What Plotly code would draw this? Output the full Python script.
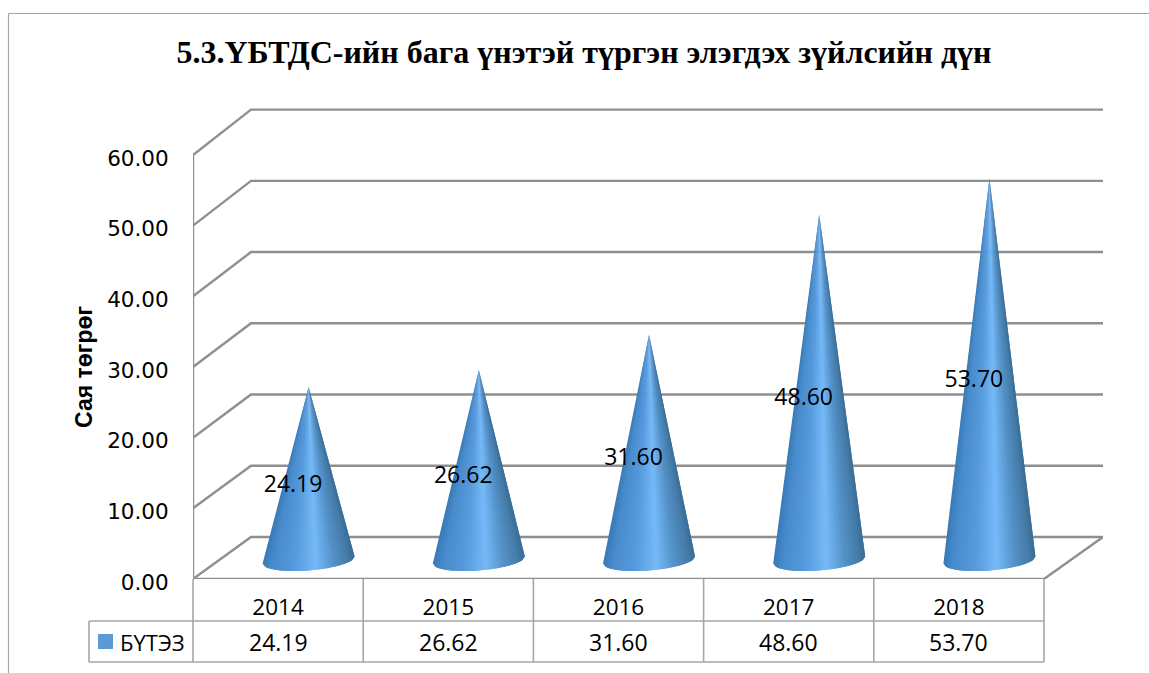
import numpy as np
import plotly.graph_objects as go

W, H = 1149, 673

# values
years = ['2014', '2015', '2016', '2017', '2018']
totals = [24.19, 26.62, 31.60, 48.60, 53.70]
y_ticks = [0, 10, 20, 30, 40, 50, 60]

title_text = '5.3.ҮБТДС-ийн бага үнэтэй түргэн элэгдэх зүйлсийн дүн'
y_title = 'Сая төгрөг'
series_name = 'БҮТЭЗ'

# pixel frame of the fake 3D box
X0, X5 = 193, 1044      # front edge of floor, first and last category border
XR = 1103               # right end of back wall
Y0, Y60 = 579, 155      # front axis, value 0 and value 60
YT = 108                # top of the plot area
X_UNIT = (X5 - X0) / 5
Y_UNIT = (Y0 - Y60) / 60
DEPTH_X = 58 / X_UNIT
DEPTH_Y = 42 / Y_UNIT
BACK_SCALE = 1.008

# cone geometry in pixels
CONE_A = 46
CONE_B = 10.5
CONE_TILT = 3.5
CONE_LIFT = 19 / Y_UNIT
CONE_SHIFT = 1.5 / X_UNIT
APEX_EXTRA = 2 / Y_UNIT

GRID = '#8f8f8f'
TABLE = '#a6a6a6'
# shading left to right across a cone
shade_stops = [(0.0, (58, 122, 182)), (0.1, (72, 140, 205)), (0.35, (88, 155, 222)),
               (0.58, (118, 186, 248)), (0.78, (84, 146, 200)), (0.93, (70, 125, 170)),
               (1.0, (58, 108, 150))]
N_WEDGES = 40


def shade(f):
    xs = [s[0] for s in shade_stops]
    rgb = [np.interp(f, xs, [s[1][k] for s in shade_stops]) for k in range(3)]
    return 'rgb(%d,%d,%d)' % tuple(rgb)


def px(x):
    return x / W


def py(y):
    return 1 - y / H


fig = go.Figure()

# back wall gridlines, running from the y axis to the back and along the wall
for v in y_ticks:
    fig.add_trace(go.Scatter(
        x=[0, DEPTH_X, (XR - X0) / X_UNIT],
        y=[v, v * BACK_SCALE + DEPTH_Y, v * BACK_SCALE + DEPTH_Y],
        mode='lines', line=dict(color=GRID, width=2.4), hoverinfo='skip', showlegend=False))

# floor front edge and right side
fig.add_trace(go.Scatter(
    x=[0, 5, (XR - X0) / X_UNIT], y=[0, 0, DEPTH_Y],
    mode='lines', line=dict(color=GRID, width=2.4), hoverinfo='skip', showlegend=False))

# y axis wall edge
fig.add_trace(go.Scatter(
    x=[0, 0], y=[0, 60],
    mode='lines', line=dict(color=GRID, width=2.4), hoverinfo='skip', showlegend=False))

# cones, one trace per shade with a wedge from every cone
# each wedge also covers the next one so the fills leave no seams
for w in range(N_WEDGES):
    fracs = [w / N_WEDGES, (w + 1) / N_WEDGES, min(w + 2, N_WEDGES) / N_WEDGES]
    xs, ys = [], []
    for i, v in enumerate(totals):
        cx = i + 0.5 + DEPTH_X / 2 + CONE_SHIFT
        xs += [cx]
        ys += [v + CONE_LIFT + APEX_EXTRA]
        for f in fracs:
            c = 2 * f - 1
            s = np.sqrt(1 - c * c)
            xs.append(cx + c * CONE_A / X_UNIT)
            ys.append(CONE_LIFT + (c * CONE_TILT - s * CONE_B) / Y_UNIT)
        xs.append(None)
        ys.append(None)
    col = shade((w + 0.5) / N_WEDGES)
    fig.add_trace(go.Scatter(
        x=xs, y=ys, mode='lines', fill='toself', fillcolor=col,
        line=dict(width=0), hoverinfo='skip', showlegend=False))

# data labels
fig.add_trace(go.Scatter(
    x=[i + 0.5 + 15 / X_UNIT for i in range(len(years))],
    y=[v / 2 + 1.1 for v in totals],
    text=['%.2f' % v for v in totals],
    mode='text', textposition='middle center',
    textfont=dict(family='Open Sans', size=23, color='black'),
    cliponaxis=False, hoverinfo='skip', showlegend=False))

shapes = []


def table_line(x1, y1, x2, y2, width=1.6):
    shapes.append(dict(type='line', xref='paper', yref='paper',
                       x0=px(x1), y0=py(y1), x1=px(x2), y1=py(y2),
                       line=dict(color=TABLE, width=width)))


# outer chart border
table_line(8.5, 13.5, W, 13.5, 1.2)
table_line(8.5, 13.5, 8.5, H, 1.2)

# data table under the chart
for i in range(len(years) + 1):
    x = X0 + i * X_UNIT
    table_line(x, Y0, x, 662)
table_line(89, 621, X5, 621)
table_line(89, 662, X5, 662)
table_line(89, 621, 89, 662)

# legend key
shapes.append(dict(type='rect', xref='paper', yref='paper',
                   x0=px(98), x1=px(113), y0=py(649), y1=py(634),
                   fillcolor='#5b9bd5', line=dict(width=0)))

annotations = []
for i, v in enumerate(totals):
    annotations.append(dict(
        x=i + 0.5, xref='x', y=py(642), yref='paper', text='%.2f' % v, showarrow=False,
        xanchor='center', yanchor='middle', font=dict(family='Open Sans', size=23, color='black')))
annotations.append(dict(
    x=px(118), xref='paper', y=py(642), yref='paper', text=series_name, showarrow=False,
    xanchor='left', yanchor='middle', font=dict(family='Open Sans', size=22, color='black')))
annotations.append(dict(
    x=px(84), xref='paper', y=py(367), yref='paper', text='<b>' + y_title + '</b>', showarrow=False,
    textangle=-90, xanchor='center', yanchor='middle',
    font=dict(family='Liberation Sans', size=23, color='black')))

fig.update_layout(
    width=W, height=H, autosize=False,
    margin=dict(l=0, r=0, t=0, b=0),
    paper_bgcolor='white', plot_bgcolor='white',
    showlegend=False,
    title=dict(
        text='<b>' + title_text + '</b>', x=584 / W, xanchor='center', y=py(52), yanchor='middle',
        font=dict(family='Liberation Serif', size=32, color='black')),
    xaxis=dict(
        domain=[px(X0), px(XR)], range=[0, (XR - X0) / X_UNIT], automargin=False,
        tickvals=[i + 0.5 for i in range(len(years))], ticktext=years,
        ticks='outside', ticklen=8, tickcolor='rgba(0,0,0,0)',
        showgrid=False, zeroline=False, showline=False,
        tickfont=dict(family='Open Sans', size=22.5, color='black')),
    yaxis=dict(
        domain=[py(Y0), py(YT)], range=[0, (Y0 - YT) / Y_UNIT], automargin=False,
        tickvals=y_ticks, tickformat='.2f',
        ticks='outside', ticklen=19, tickcolor='rgba(0,0,0,0)', ticklabelshift=3,
        showgrid=False, zeroline=False, showline=False,
        tickfont=dict(family='DejaVu Sans', size=21.5, color='black')),
    shapes=shapes, annotations=annotations)

fig.write_html('out.html', config=dict(displayModeBar=False),
               post_script="document.body.style.margin='0';")
